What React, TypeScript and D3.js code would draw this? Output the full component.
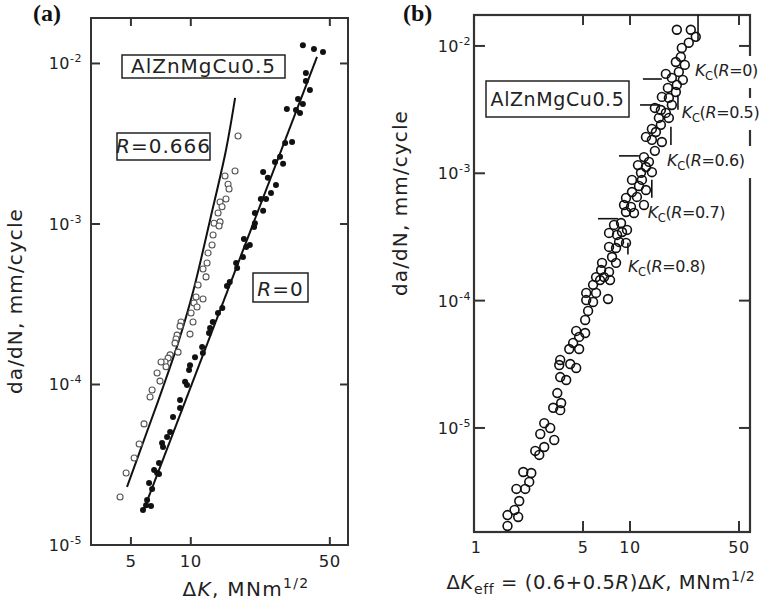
import React from "react";
import * as d3 from "d3";

// ---------- Panel (a): da/dN vs ΔK ----------
const r0Points: [number, number][] = [
  [36.6, 1.3e-2], [41.6, 1.23e-2], [46.2, 1.18e-2], [37.9, 8.73e-3], [37.9, 7.78e-3], [39.7, 6.84e-3],
  [34.6, 6.01e-3], [36.6, 5.6e-3], [30.4, 5.21e-3], [33.8, 5.13e-3], [35.4, 4.92e-3], [29.8, 3.2e-3],
  [32.3, 3.24e-3], [28.1, 2.62e-3], [29.1, 2.37e-3], [26.5, 2.43e-3], [23.1, 2.11e-3], [24.4, 1.94e-3],
  [26.8, 1.75e-3], [22.5, 1.43e-3], [23.9, 1.43e-3], [25.3, 1.56e-3], [23.1, 1.21e-3], [21.0, 1.17e-3],
  [21.0, 1.01e-3], [20.8, 9.58e-4], [18.5, 8.06e-4], [19.8, 7.4e-4], [19.0, 7.19e-4], [18.3, 6.23e-4],
  [16.9, 5.71e-4], [17.1, 5.32e-4], [15.7, 4.35e-4], [15.2, 4.11e-4], [14.4, 3.0e-4], [13.7, 2.79e-4],
  [12.9, 2.45e-4], [12.5, 2.25e-4], [12.35, 2.09e-4], [11.4, 1.71e-4], [11.5, 1.57e-4], [10.5, 1.48e-4],
  [9.91, 1.32e-4], [9.8, 1.23e-4], [9.36, 1.04e-4], [9.57, 9.93e-5], [8.83, 8.0e-5], [8.83, 7.14e-5],
  [8.14, 6.27e-5], [7.87, 5.06e-5], [7.6, 4.71e-5], [7.17, 4.32e-5], [7.25, 4.08e-5], [6.92, 3.24e-5],
  [6.77, 2.81e-5], [6.92, 2.77e-5], [6.54, 2.93e-5], [6.17, 2.43e-5], [6.39, 2.23e-5], [6.03, 1.91e-5],
  [5.96, 1.77e-5], [6.31, 1.75e-5], [5.75, 1.65e-5],
];

const r666Points: [number, number][] = [
  [17.28, 3.53e-3], [16.69, 2.14e-3], [14.86, 1.99e-3], [15.39, 1.77e-3], [15.57, 1.65e-3], [15.03, 1.43e-3],
  [14.03, 1.37e-3], [14.36, 1.28e-3], [13.71, 1.17e-3], [13.09, 1.01e-3], [14.03, 1.03e-3], [13.87, 9.72e-4],
  [12.94, 8.54e-4], [12.79, 7.4e-4], [12.21, 6.6e-4], [12.07, 5.71e-4], [11.52, 5.24e-4], [11.93, 4.68e-4],
  [10.88, 4.17e-4], [10.63, 3.51e-4], [11.52, 3.41e-4], [10.38, 3.22e-4], [10.75, 3.04e-4], [10.03, 2.79e-4],
  [10.26, 2.45e-4], [8.93, 2.45e-4], [8.83, 2.31e-4], [8.53, 2.03e-4], [9.91, 2.06e-4], [8.43, 1.92e-4],
  [8.33, 1.81e-4], [8.63, 1.59e-4], [7.87, 1.53e-4], [7.69, 1.46e-4], [7.42, 1.38e-4], [7.09, 1.38e-4],
  [7.51, 1.29e-4], [6.77, 1.18e-4], [7.0, 1.05e-4], [6.39, 9.25e-5], [6.24, 8.36e-5], [5.82, 5.68e-5],
  [5.5, 4.26e-5], [5.19, 3.48e-5], [4.73, 2.81e-5], [4.41, 1.99e-5],
];

const fitR0: [number, number][] = [[5.75, 1.61e-5], [43.1, 1.1e-2]];
const fitR666: [number, number][] = [
  [4.78, 2.3e-5], [5.89, 4.71e-5], [7.17, 9.25e-5], [8.63, 1.81e-4], [10.26, 3.77e-4],
  [12.5, 1.06e-3], [15.03, 2.89e-3], [16.7, 6.1e-3],
];

const aTicksX = [5, 10, 50];
const aTicksYExp = [-2, -3, -4, -5];

// ---------- Panel (b): da/dN vs ΔKeff ----------
const effPoints: [number, number][] = [
  [1.64, 1.7e-6], [1.64, 2.07e-6], [1.82, 2.27e-6], [1.92, 2.0e-6], [1.95, 2.67e-6], [1.87, 3.32e-6],
  [2.13, 3.32e-6], [2.26, 3.77e-6], [2.07, 4.51e-6], [2.33, 4.43e-6], [2.47, 6.6e-6], [2.62, 6.14e-6],
  [2.82, 7.09e-6], [2.66, 8.97e-6], [3.08, 1.0e-5], [2.82, 1.09e-5], [3.27, 8.05e-6], [3.22, 1.44e-5],
  [3.57, 1.38e-5], [3.42, 1.88e-5], [3.62, 1.57e-5], [3.52, 3.12e-5], [3.57, 3.42e-5], [3.57, 2.51e-5],
  [3.9, 2.38e-5], [4.14, 3.18e-5], [4.52, 2.96e-5], [4.08, 4.17e-5], [4.72, 4.17e-5], [4.32, 4.65e-5],
  [4.72, 5.19e-5], [4.52, 5.78e-5], [5.16, 5.57e-5], [5.16, 7.05e-5], [5.39, 8.3e-5], [5.24, 1.01e-4],
  [5.8, 9.76e-5], [7.23, 1.03e-4], [5.24, 1.15e-4], [5.8, 1.33e-4], [6.43, 1.45e-4], [7.45, 1.45e-4],
  [6.06, 1.15e-4], [6.06, 1.53e-4], [6.82, 1.53e-4], [6.53, 1.74e-4], [7.34, 1.68e-4], [6.62, 1.98e-4],
  [8.14, 1.98e-4], [7.67, 2.2e-4], [7.34, 2.64e-4], [8.14, 2.59e-4], [8.51, 2.89e-4], [9.43, 2.84e-4],
  [7.34, 3.4e-4], [8.26, 3.28e-4], [8.89, 3.46e-4], [9.57, 3.59e-4], [7.9, 3.93e-4], [8.76, 4.07e-4],
  [9.43, 4.97e-4], [10.61, 4.88e-4], [9.16, 5.64e-4], [10.15, 5.44e-4], [12.29, 5.64e-4], [9.43, 6.4e-4],
  [10.3, 7.13e-4], [11.08, 6.52e-4], [11.42, 7.95e-4], [12.66, 7.39e-4], [10.3, 8.87e-4], [11.93, 8.87e-4],
  [11.76, 1.01e-3], [13.82, 1.02e-3], [11.25, 1.16e-3], [12.66, 1.12e-3], [12.29, 1.34e-3], [13.23, 1.23e-3],
  [14.44, 1.5e-3], [12.66, 1.93e-3], [13.82, 1.83e-3], [16.01, 1.76e-3], [13.82, 2.23e-3], [14.66, 2.11e-3],
  [15.78, 2.4e-3], [15.32, 2.72e-3], [17.75, 2.72e-3], [14.44, 3.26e-3], [15.78, 3.14e-3], [16.98, 2.98e-3],
  [16.01, 3.98e-3], [17.75, 3.91e-3], [18.55, 3.44e-3], [17.49, 4.68e-3], [19.68, 4.35e-3], [16.98, 6.03e-3],
  [18.55, 5.61e-3], [21.81, 5.41e-3], [19.97, 4.94e-3], [20.56, 6.25e-3], [22.46, 7.1e-3], [19.68, 7.48e-3],
  [21.18, 8.2e-3], [21.49, 9.64e-3], [23.82, 1.06e-2], [26.41, 1.18e-2], [19.97, 1.34e-2], [24.54, 1.34e-2],
];

const kcR = ["0", "0.5", "0.6", "0.7", "0.8"];
// horizontal Kc markers: [da/dN, ΔKeff from, ΔKeff to]
const kcHoriz: ([number, number, number] | null)[] = [
  [5.5e-3, 12.1, 16.0], [3.44e-3, 11.6, 15.6], [1.37e-3, 8.5, 11.4], [4.4e-4, 6.24, 8.37], null,
];
// vertical Kc markers: [ΔKeff, da/dN top, da/dN bottom]
const kcVert: [number, number, number][] = [
  [27.3, 0.0175, 1.11e-2], [20.3, 4.13e-3, 3.15e-3], [18.3, 2.32e-3, 1.67e-3],
  [13.8, 8.9e-4, 6.43e-4], [9.7, 2.85e-4, 2.3e-4],
];
// label anchors: [ΔKeff, da/dN]
const kcLabelAt: [number, number][] = [
  [26.1, 5.81e-3], [21.5, 2.72e-3], [17.3, 1.14e-3], [13.0, 4.46e-4], [9.71, 1.68e-4],
];

const bTicksX = [1, 5, 10, 50];
const bTicksYExp = [-2, -3, -4, -5];

const FONT = "'DejaVu Sans', Verdana, sans-serif";
const SERIF = "'Liberation Serif', 'Times New Roman', serif";
const INK = "#222";

function Pow10({ x, y, exp, size = 16, supSize = 11 }: any) {
  return (
    <text x={x} y={y} textAnchor="end" fontFamily={FONT} fontSize={size} fill={INK} letterSpacing={0.5}>
      10<tspan fontSize={supSize} dy={-7}>{String(exp)}</tspan>
    </text>
  );
}

export default function App() {
  const xA = d3.scaleLog().domain([3.15, 61.7]).range([91, 348]);
  const yA = d3.scaleLog().domain([1e-5, 0.0192]).range([545, 18]);
  const xB = d3.scaleLog().domain([1, 58.8]).range([474, 750]);
  const yB = d3.scaleLog().domain([Math.pow(10, -5.817), Math.pow(10, -1.757)]).range([532, 15]);

  const [aL, aR] = xA.range();
  const [aB, aT] = yA.range();
  const [bL, bR] = xB.range();
  const [bB, bT] = yB.range();

  const lineA = d3.line<[number, number]>().x((d) => xA(d[0])).y((d) => yA(d[1]));
  const curveA = d3
    .line<[number, number]>()
    .x((d) => xA(d[0]))
    .y((d) => yA(d[1]))
    .curve(d3.curveCatmullRom.alpha(0.5));

  return (
    <svg width={763} height={603} style={{ position: "absolute", left: 0, top: 0 }}>
      <rect x={0} y={0} width={763} height={603} fill="#fff" />

      {/* ================= Panel (a) ================= */}
      <text x={33} y={21} fontFamily={SERIF} fontWeight="bold" fontSize={24} fill="#111">(a)</text>
      <rect x={aL} y={aT} width={aR - aL} height={aB - aT} fill="none" stroke="#333" strokeWidth={2} />
      {aTicksX.map((k) => (
        <g key={"axt" + k}>
          <line x1={xA(k)} x2={xA(k)} y1={aB} y2={aB - 8} stroke="#333" strokeWidth={2} />
          <line x1={xA(k)} x2={xA(k)} y1={aT} y2={aT + 8} stroke="#333" strokeWidth={2} />
          <text x={xA(k)} y={567} textAnchor="middle" fontFamily={FONT} fontSize={16.5} fill={INK} letterSpacing={0.5}>
            {k}
          </text>
        </g>
      ))}
      {aTicksYExp.map((e) => (
        <g key={"ayt" + e}>
          {e > -5 && (
            <>
              <line x1={aL} x2={aL + 9} y1={yA(Math.pow(10, e))} y2={yA(Math.pow(10, e))} stroke="#333" strokeWidth={2} />
              <line x1={aR} x2={aR - 8} y1={yA(Math.pow(10, e))} y2={yA(Math.pow(10, e))} stroke="#333" strokeWidth={2} />
            </>
          )}
          <Pow10 x={aL - 9} y={yA(Math.pow(10, e)) + 6} exp={e} />
        </g>
      ))}

      <path d={lineA(fitR0) || ""} fill="none" stroke="#111" strokeWidth={2} />
      <path d={curveA(fitR666) || ""} fill="none" stroke="#111" strokeWidth={2} />

      {r666Points.map((p, i) => (
        <circle key={"o" + i} cx={xA(p[0])} cy={yA(p[1])} r={3} fill="#fff" stroke="#555" strokeWidth={1.1} />
      ))}
      {r0Points.map((p, i) => (
        <circle key={"f" + i} cx={xA(p[0])} cy={yA(p[1])} r={3} fill="#111" />
      ))}

      <rect x={122} y={55} width={163} height={23} fill="#fff" stroke={INK} strokeWidth={1.5} />
      <text x={203.5} y={72.5} textAnchor="middle" fontFamily={FONT} fontSize={20} fill={INK} letterSpacing={1}>
        AlZnMgCu0.5
      </text>
      <rect x={117} y={133} width={93} height={27} fill="#fff" stroke={INK} strokeWidth={1.5} />
      <text x={163.5} y={153} textAnchor="middle" fontFamily={FONT} fontSize={20} fill={INK} letterSpacing={1}>
        <tspan fontStyle="italic">R</tspan>=0.666
      </text>
      <rect x={253} y={273} width={55} height={29} fill="#fff" stroke={INK} strokeWidth={1.5} />
      <text x={280.5} y={296} textAnchor="middle" fontFamily={FONT} fontSize={20} fill={INK} letterSpacing={1}>
        <tspan fontStyle="italic">R</tspan>=0
      </text>

      <text
        transform="translate(22,301) rotate(-90)"
        textAnchor="middle"
        fontFamily={FONT}
        fontSize={20}
        fill={INK}
        letterSpacing={1.1}
      >
        da/dN, mm/cycle
      </text>
      <text x={246} y={596} textAnchor="middle" fontFamily={FONT} fontSize={20} fill={INK} letterSpacing={1.3}>
        Δ<tspan fontStyle="italic">K</tspan>, MNm<tspan fontSize={14} dy={-8}>1/2</tspan>
      </text>

      {/* ================= Panel (b) ================= */}
      <text x={403} y={21} fontFamily={SERIF} fontWeight="bold" fontSize={24} fill="#111">(b)</text>
      <rect x={bL} y={bT} width={bR - bL} height={bB - bT} fill="none" stroke="#333" strokeWidth={2.2} />
      {bTicksX.map((k) => (
        <g key={"bxt" + k}>
          {k > 1 && (
            <>
              <line x1={xB(k)} x2={xB(k)} y1={bB} y2={bB - 11} stroke="#333" strokeWidth={2} />
              <line x1={xB(k)} x2={xB(k)} y1={bT} y2={bT + 10} stroke="#333" strokeWidth={2} />
            </>
          )}
          <text x={xB(k) + (k === 1 ? 2 : 0)} y={553} textAnchor="middle" fontFamily={FONT} fontSize={16} fill={INK} letterSpacing={0.5}>
            {k}
          </text>
        </g>
      ))}
      {bTicksYExp.map((e) => (
        <g key={"byt" + e}>
          <line x1={bL} x2={bL + 11} y1={yB(Math.pow(10, e))} y2={yB(Math.pow(10, e))} stroke="#333" strokeWidth={2} />
          <line x1={bR} x2={bR - 11} y1={yB(Math.pow(10, e))} y2={yB(Math.pow(10, e))} stroke="#333" strokeWidth={2} />
          <Pow10 x={bL - 3} y={yB(Math.pow(10, e)) + 6} exp={e} />
        </g>
      ))}

      {/* label backgrounds (they interrupt the right frame) */}
      {kcLabelAt.map((p, i) => (
        <rect key={"m" + i} x={xB(p[0]) - 2} y={yB(p[1]) - 20} width={92} height={32} fill="#fff" />
      ))}

      {kcHoriz.map((h, i) =>
        h ? (
          <line key={"h" + i} x1={xB(h[1])} x2={xB(h[2])} y1={yB(h[0])} y2={yB(h[0])} stroke="#111" strokeWidth={1.6} />
        ) : null
      )}
      {kcVert.map((v, i) => (
        <line key={"v" + i} x1={xB(v[0])} x2={xB(v[0])} y1={yB(v[1])} y2={yB(v[2])} stroke="#111" strokeWidth={1.6} />
      ))}

      {effPoints.map((p, i) => (
        <circle key={"b" + i} cx={xB(p[0])} cy={yB(p[1])} r={4.4} fill="none" stroke="#111" strokeWidth={1.6} />
      ))}

      {kcLabelAt.map((p, i) => (
        <text key={"l" + i} x={xB(p[0])} y={yB(p[1])} fontFamily={FONT} fontSize={16} fill={INK} letterSpacing={-0.4}>
          <tspan fontStyle="italic">K</tspan>
          <tspan fontSize={11.5} dy={4}>C</tspan>
          <tspan dy={-4}>(</tspan>
          <tspan fontStyle="italic">R</tspan>
          <tspan>={kcR[i]})</tspan>
        </text>
      ))}

      <rect x={486} y={81} width={143} height={36} fill="#fff" stroke={INK} strokeWidth={1.5} />
      <text x={557.5} y={106} textAnchor="middle" fontFamily={FONT} fontSize={19} fill={INK} letterSpacing={0.6}>
        AlZnMgCu0.5
      </text>

      <text
        transform="translate(407,203) rotate(-90)"
        textAnchor="middle"
        fontFamily={FONT}
        fontSize={20}
        fill={INK}
        letterSpacing={1.1}
      >
        da/dN, mm/cycle
      </text>
      <text x={601} y={589} textAnchor="middle" fontFamily={FONT} fontSize={19.5} fill={INK} letterSpacing={0.6}>
        Δ<tspan fontStyle="italic">K</tspan>
        <tspan fontSize={14} dy={5}>eff</tspan>
        <tspan dy={-5}>{" = (0.6+0.5"}</tspan>
        <tspan fontStyle="italic">R</tspan>
        <tspan>)Δ</tspan>
        <tspan fontStyle="italic">K</tspan>
        <tspan>{", MNm"}</tspan>
        <tspan fontSize={14} dy={-8}>1/2</tspan>
      </text>
    </svg>
  );
}
